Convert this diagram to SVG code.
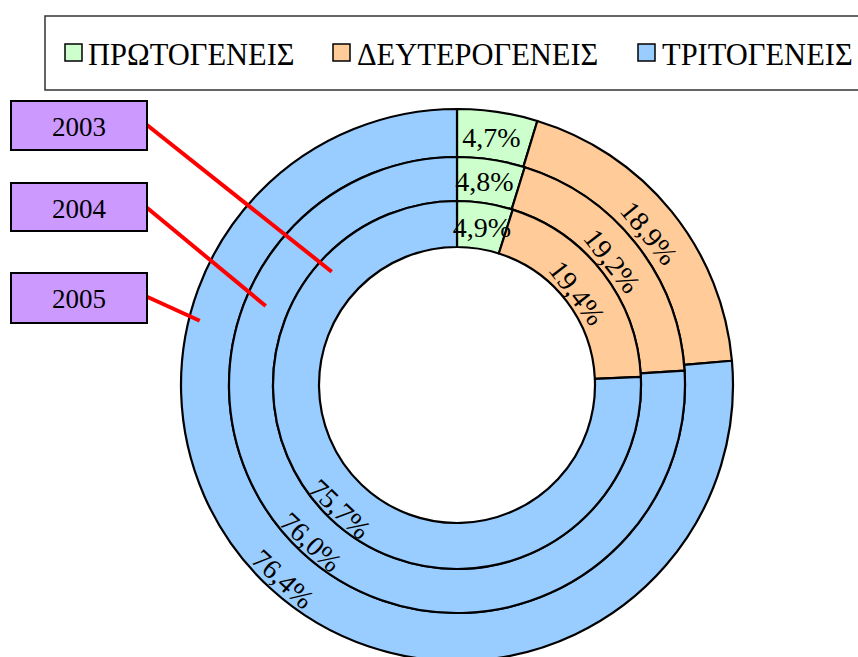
<svg xmlns="http://www.w3.org/2000/svg" width="858" height="657" viewBox="0 0 858 657">
<style>
text{font-family:'Liberation Serif','DejaVu Serif',serif;fill:#000}
.t{font-size:28px}
.y{font-size:27px}
.lg{font-size:30.5px}
.g{fill:#CCFFCC;stroke:#000;stroke-width:2.2;stroke-linejoin:round}
.o{fill:#FFCC99;stroke:#000;stroke-width:2.2;stroke-linejoin:round}
.b{fill:#99CCFF;stroke:#000;stroke-width:2.2;stroke-linejoin:round}
.box{fill:#CC99FF;stroke:#000;stroke-width:2}
.lead{stroke:#FF0000;stroke-width:4;fill:none}
.sq{stroke:#000;stroke-width:1.5}
</style>
<rect width="858" height="657" fill="#fff"/>
<g id="legend">
<rect x="45" y="16" width="830" height="74" fill="#fff" stroke="#333" stroke-width="1.5"/>
<rect class="sq" x="65" y="44" width="17" height="17" fill="#CCFFCC"/>
<text class="lg" x="88" y="64.5">ΠΡΩΤΟΓΕΝΕΙΣ</text>
<rect class="sq" x="333" y="44" width="17" height="17" fill="#FFCC99"/>
<text class="lg" x="357" y="64.5">ΔΕΥΤΕΡΟΓΕΝΕΙΣ</text>
<rect class="sq" x="638" y="44" width="17" height="17" fill="#99CCFF"/>
<text class="lg" x="662" y="64.5">ΤΡΙΤΟΓΕΝΕΙΣ</text>
</g>
<g id="ring2005">
<path class="g" d="M457,109 A276,276 0 0 1 537.33,120.95 L523.36,166.87 A228,228 0 0 0 457,157 Z"/>
<path class="o" d="M537.33,120.95 A276,276 0 0 1 731.93,360.75 L684.12,364.97 A228,228 0 0 0 523.36,166.87 Z"/>
<path class="b" d="M731.93,360.75 A276,276 0 1 1 457,109 L457,157 A228,228 0 1 0 684.12,364.97 Z"/>
</g>
<g id="ring2004">
<path class="g" d="M457,157 A228,228 0 0 1 524.73,167.29 L511.66,209.30 A184,184 0 0 0 457,201 Z"/>
<path class="o" d="M524.73,167.29 A228,228 0 0 1 684.55,370.68 L640.64,373.45 A184,184 0 0 0 511.66,209.30 Z"/>
<path class="b" d="M684.55,370.68 A228,228 0 1 1 457,157 L457,201 A184,184 0 1 0 640.64,373.45 Z"/>
</g>
<g id="ring2003">
<path class="g" d="M457,201 A184,184 0 0 1 512.76,209.65 L498.82,253.49 A138,138 0 0 0 457,247 Z"/>
<path class="o" d="M512.76,209.65 A184,184 0 0 1 640.82,376.91 L594.87,378.93 A138,138 0 0 0 498.82,253.49 Z"/>
<path class="b" d="M640.82,376.91 A184,184 0 1 1 457,201 L457,247 A138,138 0 1 0 594.87,378.93 Z"/>
</g>
<g id="values">
<text class="t" x="491.5" y="146.5" text-anchor="middle">4,7%</text>
<text class="t" x="484.5" y="191" text-anchor="middle">4,8%</text>
<text class="t" x="482" y="237" text-anchor="middle">4,9%</text>
<text class="t" transform="translate(649,233) rotate(51)" x="0" y="9.5" text-anchor="middle">18,9%</text>
<text class="t" transform="translate(612,261) rotate(52)" x="0" y="9.5" text-anchor="middle">19,2%</text>
<text class="t" transform="translate(577,293) rotate(52.5)" x="0" y="9.5" text-anchor="middle">19,4%</text>
<text class="t" transform="translate(283,579) rotate(42.5)" x="0" y="9.5" text-anchor="middle">76,4%</text>
<text class="t" transform="translate(311,542) rotate(43.2)" x="0" y="9.5" text-anchor="middle">76,0%</text>
<text class="t" transform="translate(340,509) rotate(43.7)" x="0" y="9.5" text-anchor="middle">75,7%</text>
</g>
<g id="connectors">
<line class="lead" x1="147" y1="125" x2="331.7" y2="271.7"/>
<line class="lead" x1="147" y1="207.7" x2="265.7" y2="306"/>
<line class="lead" x1="147" y1="296.7" x2="199.7" y2="320.7"/>
</g>
<g id="label2003">
<rect class="box" x="11" y="101" width="136" height="49"/>
<text class="y" x="79" y="135.5" text-anchor="middle">2003</text>
</g>
<g id="label2004">
<rect class="box" x="11" y="183" width="136" height="48"/>
<text class="y" x="79" y="217.5" text-anchor="middle">2004</text>
</g>
<g id="label2005">
<rect class="box" x="11" y="273" width="136" height="50"/>
<text class="y" x="79" y="307.5" text-anchor="middle">2005</text>
</g>
</svg>
